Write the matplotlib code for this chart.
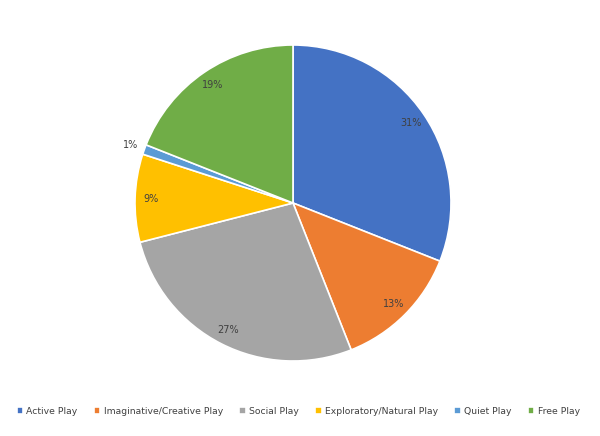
import numpy as np
import matplotlib.pyplot as plt

categories = ["Active Play", "Imaginative/Creative Play", "Social Play",
              "Exploratory/Natural Play", "Quiet Play", "Free Play"]
shares = [31, 13, 27, 9, 1, 19]
colors = ["#4472C4", "#ED7D31", "#A5A5A5", "#FFC000", "#5B9BD5", "#70AD47"]

fig = plt.figure(figsize=(6, 4.36), dpi=100)
ax = fig.add_axes([135 / 600, 75 / 436, 316 / 600, 316 / 436])

wedges, texts, autotexts = ax.pie(
    shares, colors=colors, startangle=90, counterclock=False,
    autopct="%1.0f%%", pctdistance=0.9,
    wedgeprops=dict(edgecolor="white", linewidth=1.2),
    textprops=dict(fontsize=7, color="#404040"))

# small slice label goes outside the pie
for w, t, v in zip(wedges, autotexts, shares):
    if v < 3:
        mid = np.deg2rad((w.theta1 + w.theta2) / 2)
        t.set_position((1.09 * np.cos(mid), 1.09 * np.sin(mid)))

ax.set_xlim(-1, 1)
ax.set_ylim(-1, 1)
ax.set_aspect("equal")

fig.legend(wedges, categories, loc="center", bbox_to_anchor=(0.497, 0.057),
           ncol=6, frameon=False, fontsize=6.7, labelcolor="#404040",
           handlelength=0.7, handleheight=0.7, handletextpad=0.35,
           columnspacing=1.75, borderpad=0.2)

fig.savefig("out.png", dpi=100)
